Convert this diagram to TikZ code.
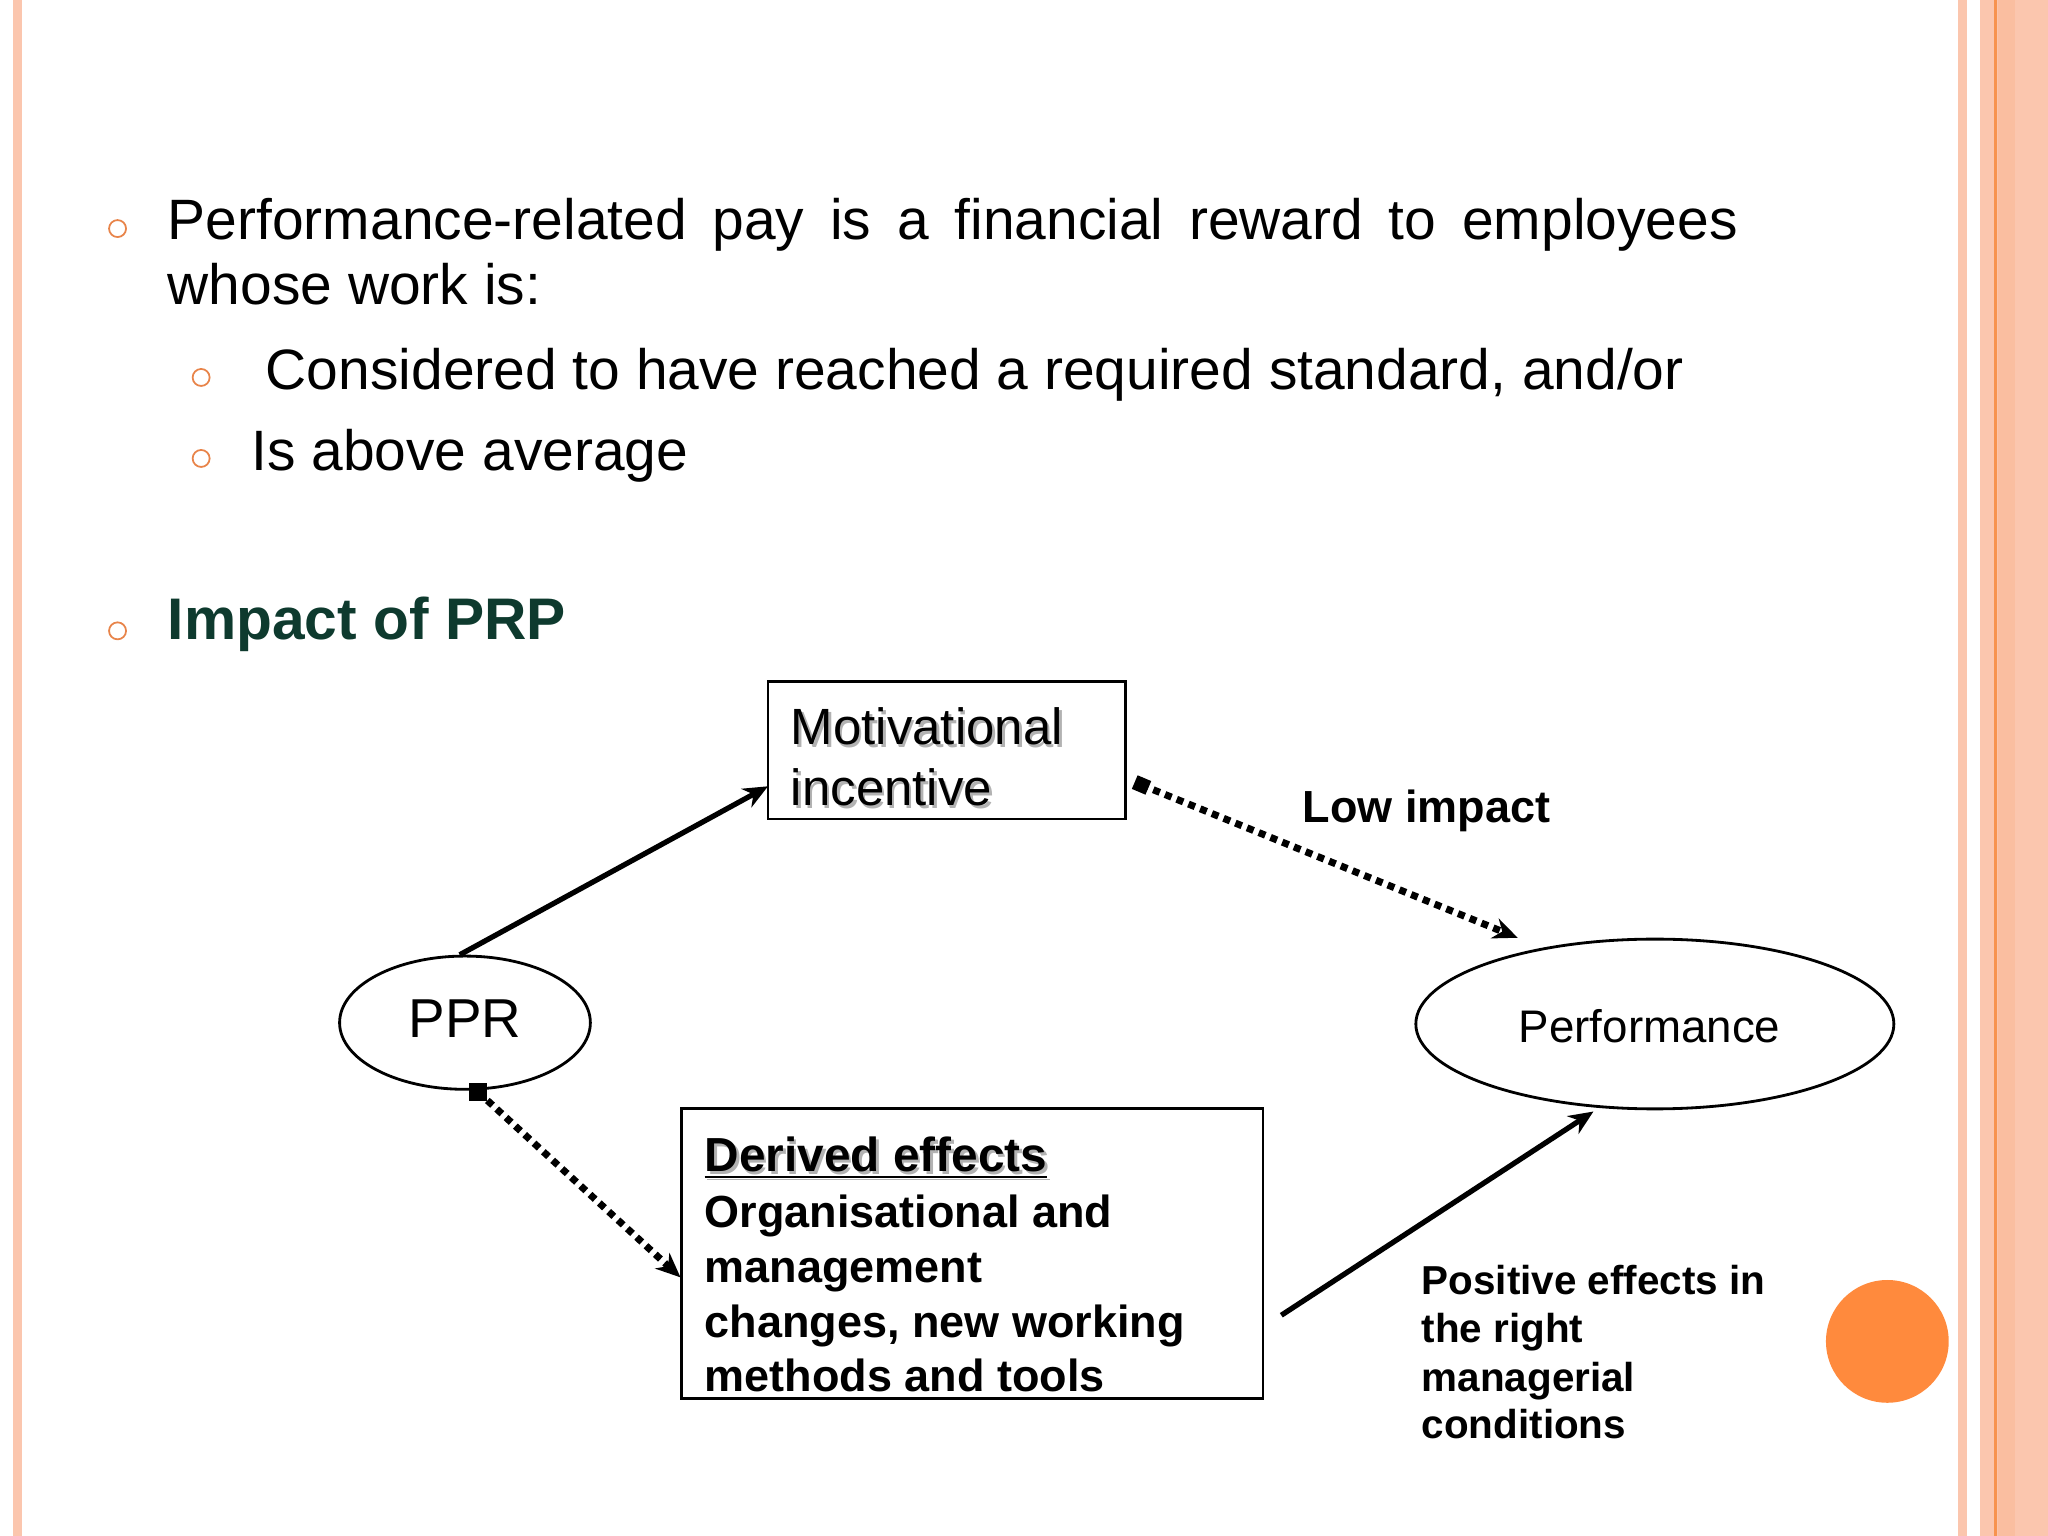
\documentclass[tikz,border=0pt]{standalone}
\usepackage{fontspec}
\setmainfont{Liberation Sans}
\usetikzlibrary{arrows.meta}
\definecolor{bul}{HTML}{E8844A}
\definecolor{pinkb}{HTML}{FBC6AE}
\definecolor{orl}{HTML}{F7934F}
\definecolor{dgreen}{HTML}{0E3A2E}
\definecolor{oc}{HTML}{FF8A3D}
\tikzset{
 bullet/.style={draw=bul,line width=0.5pt,circle,inner sep=0pt,minimum size=0.17cm},
 txt/.style={anchor=base west,inner sep=0pt,font=\fontsize{16.2}{20}\selectfont},
 box/.style={draw,line width=0.8pt,inner sep=0pt},
 solidarr/.style={line width=1.5pt,-{Stealth[length=7pt,width=6pt]}},
 dotarr/.style={line width=2pt,dash pattern=on 2pt off 1.6pt,-{Stealth[length=7pt,width=6pt]}},
 dtxt/.style={anchor=base west,inner sep=0pt,font=\fontsize{12.8}{15}\selectfont\bfseries},
}
\begin{document}
\begin{tikzpicture}[x=0.013061cm,y=-0.013061cm]
\useasboundingbox (0,0) rectangle (1568,1176);
% borders
\fill[pinkb] (10,0) rectangle (17,1176);
\fill[pinkb] (1499,0) rectangle (1506,1176);
\fill[pinkb] (1516,0) rectangle (1568,1176);
\fill[orl] (1527,0) rectangle (1529,1176);
\fill[pinkb!85!orl] (1530,0) rectangle (1543,1176);
% bullets
\node[bullet] (b1) at (90,175) {};
\node[bullet] (b2) at (154,289) {};
\node[bullet] (b3) at (154,351) {};
\node[bullet] (b4) at (90,483) {};
\node[txt] (t1) at (128,183) {\hbox to 15.70cm{Performance-related\hfill\ pay\hfill\ is\hfill\ a\hfill\ financial\hfill\ reward\hfill\ to\hfill\ employees}};
\node[txt] (t2) at (128,233) {whose work is:};
\node[txt] (t3) at (203,298) {Considered to have reached a required standard, and/or};
\node[txt] (t4) at (192,360) {Is above average};
\node[txt,font=\fontsize{16.7}{20}\selectfont\bfseries,text=dgreen] (t5) at (128,490) {Impact of PRP};
% boxes
\node[box,minimum width=274*0.013061cm,minimum height=105*0.013061cm] (mot) at (725,574.5) {};
\foreach \dx/\c in {2/gray!60,0/black}{
 \node[anchor=base west,inner sep=0pt,text=\c,font=\fontsize{14.5}{18}\selectfont] at (605+\dx,570+\dx) {Motivational};
 \node[anchor=base west,inner sep=0pt,text=\c,font=\fontsize{14.5}{18}\selectfont] at (605+\dx,617+\dx) {incentive};
}
\node[box,minimum width=445*0.013061cm,minimum height=222*0.013061cm] (der) at (744.5,960) {};
\foreach \dx/\c in {2/gray!60,0/black}{
 \node[anchor=base west,inner sep=0pt,text=\c,font=\fontsize{13.6}{16}\selectfont\bfseries] at (539+\dx,897+\dx) {\underline{Derived effects}};
}
\node[dtxt] (d1) at (539,940) {Organisational and};
\node[dtxt] (d2) at (539,982) {management};
\node[dtxt] (d3) at (539,1024) {changes, new working};
\node[dtxt] (d4) at (539,1065) {methods and tools};
% ellipses
\draw[line width=0.8pt] (356,783) ellipse (96 and 51);
\node[inner sep=0pt,minimum width=192*0.013061cm,minimum height=102*0.013061cm,font=\fontsize{15.6}{18}\selectfont] (ppr) at (356,780) {PPR};
\draw[line width=0.8pt] (1267,784) ellipse (183 and 65);
\node[inner sep=0pt,font=\fontsize{13}{15}\selectfont] (perf) at (1263,786) {Performance};
\node[dtxt] (low) at (997,630) {Low impact};
\node[dtxt,font=\fontsize{11.5}{14}\selectfont\bfseries] (p1) at (1088,991) {Positive effects in};
\node[dtxt,font=\fontsize{11.5}{14}\selectfont\bfseries] (p2) at (1088,1028) {the right};
\node[dtxt,font=\fontsize{11.5}{14}\selectfont\bfseries] (p3) at (1088,1065) {managerial};
\node[dtxt,font=\fontsize{11.5}{14}\selectfont\bfseries] (p4) at (1088,1101) {conditions};
\fill[oc] (1445,1027) circle (47);
% connectors
\coordinate (a1) at (352,731); \coordinate (a2) at (588,602);
\draw[solidarr] (a1) -- (a2);
\coordinate (c1) at (874,601); \coordinate (c2) at (1162,718);
\draw[dotarr] (c1) -- (c2);
\fill[rotate around={22:(874,601)}] (874,593) -- (882,601) -- (874,609) -- (866,601) -- cycle;
\coordinate (e1) at (366,836); \coordinate (e2) at (521,978);
\draw[dotarr] (e1) -- (e2);
\fill (359,829) rectangle (373,843);
\coordinate (f1) at (981,1007); \coordinate (f2) at (1220,851);
\draw[solidarr] (f1) -- (f2);
\end{tikzpicture}
\end{document}
